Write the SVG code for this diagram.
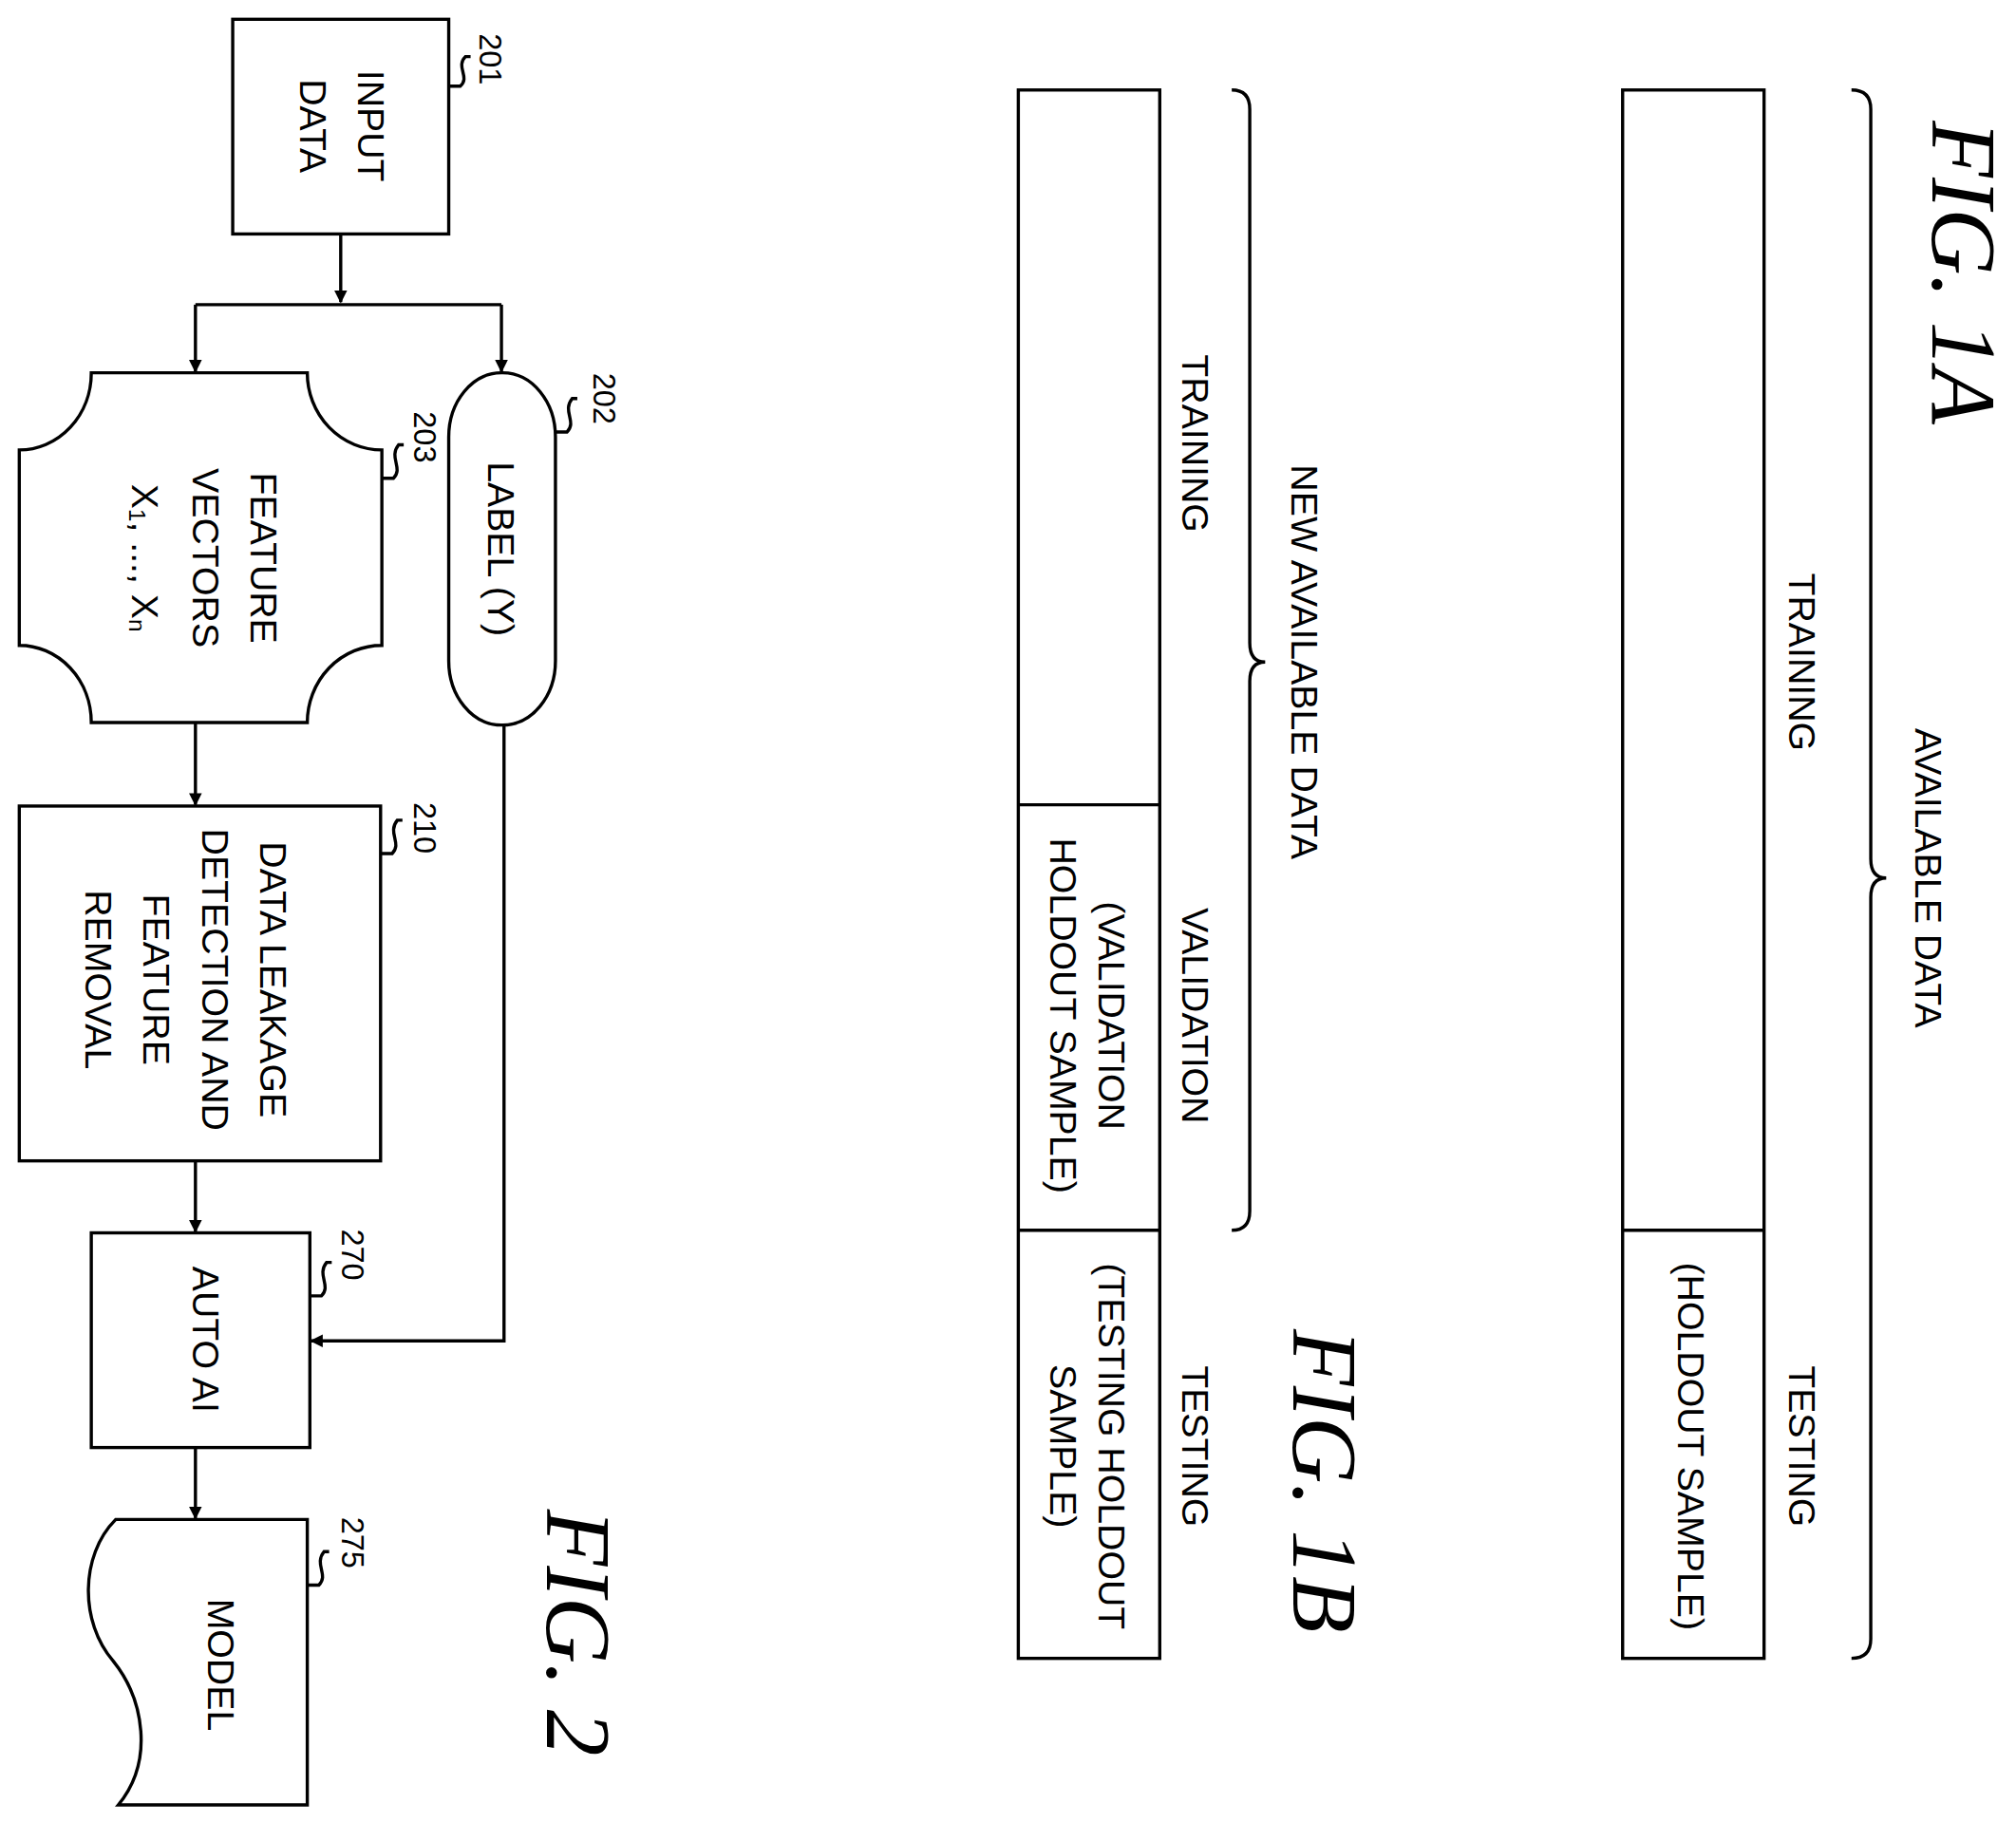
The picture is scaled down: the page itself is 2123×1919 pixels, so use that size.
<svg xmlns="http://www.w3.org/2000/svg" width="2123" height="1919" viewBox="0 0 2123 1919">
<style>
.s{fill:#fff;stroke:#000;stroke-width:2.5}
.l{fill:none;stroke:#000;stroke-width:2.5}
.t{font-family:"Liberation Sans",Arial,sans-serif;font-size:29px;fill:#000;text-anchor:middle;dominant-baseline:central}
.n{font-family:"Liberation Sans",Arial,sans-serif;font-size:24px;fill:#000;text-anchor:middle;dominant-baseline:central}
.f{font-family:"Liberation Serif","Times New Roman",serif;font-style:italic;font-size:72px;fill:#000;text-anchor:middle;dominant-baseline:central}
</style>
<defs><marker id="a" markerWidth="10" markerHeight="10" refX="9" refY="5" orient="auto" markerUnits="userSpaceOnUse"><path d="M0,0 L10,5 L0,10 z" fill="#000"/></marker></defs>
<rect width="2123" height="1919" fill="#fff"/>
<g transform="scale(1.354)">
<g id="connectors">
<path class="l" d="M265,182 V235" marker-end="url(#a)"/>
<path class="l" d="M152,237 H390"/>
<path class="l" d="M152,237 V289" marker-end="url(#a)"/>
<path class="l" d="M390,237 V289" marker-end="url(#a)"/>
<path class="l" d="M152,562 V626" marker-end="url(#a)"/>
<path class="l" d="M152,903 V958" marker-end="url(#a)"/>
<path class="l" d="M392,564 V1043 H242" marker-end="url(#a)"/>
<path class="l" d="M152,1126 V1181" marker-end="url(#a)"/>
</g>
<g id="n201"><rect class="s" x="181" y="15" width="168" height="167"/>
<text class="t" transform="translate(289,98) rotate(90)">INPUT</text>
<text class="t" transform="translate(244,98) rotate(90)">DATA</text>
<path class="l" d="M349,67 H358 C366,60 354,52 362,44 H366"/>
<text class="n" transform="translate(381,46) rotate(90)">201</text></g>
<g id="n203"><path class="s" d="M71,290 H239 A58,60 0 0 0 297,350 V502 A58,60 0 0 0 239,562 H71 A56,60 0 0 0 15,502 V350 A56,60 0 0 0 71,290 Z"/>
<text class="t" transform="translate(205,434) rotate(90)">FEATURE</text>
<text class="t" transform="translate(160,434) rotate(90)">VECTORS</text>
<text class="t" transform="translate(113,434) rotate(90)">X<tspan font-size="18" dy="6">1</tspan><tspan dy="-6">, ..., X</tspan><tspan font-size="18" dy="6">n</tspan></text>
<path class="l" d="M297,372 H306 C314,364 302,356 310,346 H314"/>
<text class="n" transform="translate(330,340) rotate(90)">203</text></g>
<g id="n202"><rect class="s" x="349" y="290" width="83" height="274" rx="41" ry="50"/>
<text class="t" transform="translate(390,427) rotate(90)">LABEL (Y)</text>
<path class="l" d="M432,336 H441 C449,328 437,320 445,310 H449"/>
<text class="n" transform="translate(470,310) rotate(90)">202</text></g>
<g id="n210"><rect class="s" x="15" y="627" width="281" height="276"/>
<text class="t" transform="translate(213,762) rotate(90)">DATA LEAKAGE</text>
<text class="t" transform="translate(168,762) rotate(90)">DETECTION AND</text>
<text class="t" transform="translate(122,762) rotate(90)">FEATURE</text>
<text class="t" transform="translate(77,762) rotate(90)">REMOVAL</text>
<path class="l" d="M296,664 H305 C313,656 301,648 309,638 H313"/>
<text class="n" transform="translate(330,644) rotate(90)">210</text></g>
<g id="n270"><rect class="s" x="71" y="959" width="170" height="167"/>
<text class="t" transform="translate(160,1042) rotate(90)">AUTO AI</text>
<path class="l" d="M241,1008 H250 C258,1000 246,992 254,982 H258"/>
<text class="n" transform="translate(274,976) rotate(90)">270</text></g>
<g id="n275"><path class="s" d="M90,1182 H239 V1404 H92 C120,1370 112,1322 88,1292 C62,1262 62,1210 90,1182 Z"/>
<text class="t" transform="translate(172,1295) rotate(90)">MODEL</text>
<path class="l" d="M239,1233 H248 C256,1225 244,1217 252,1207 H256"/>
<text class="n" transform="translate(274,1200) rotate(90)">275</text></g>
<text class="f" transform="translate(450,1270) rotate(90)">FIG. 2</text>
<g id="fig1a">
<rect class="s" x="1262" y="70" width="110" height="1220"/>
<path class="l" d="M1262,957 H1372"/>
<path class="l" d="M1440,70 Q1455,70 1455,85 V668 Q1455,683 1467,683 Q1455,683 1455,698 V1275 Q1455,1290 1440,1290"/>
<text class="t" transform="translate(1500,683) rotate(90)">AVAILABLE DATA</text>
<text class="t" transform="translate(1402,515) rotate(90)">TRAINING</text>
<text class="t" transform="translate(1402,1125) rotate(90)">TESTING</text>
<text class="t" transform="translate(1315,1125) rotate(90)">(HOLDOUT SAMPLE)</text>
<text class="f" transform="translate(1527,212) rotate(90)">FIG. 1A</text>
</g>
<g id="fig1b">
<rect class="s" x="792" y="70" width="110" height="1220"/>
<path class="l" d="M792,626 H902 M792,957 H902"/>
<path class="l" d="M958,70 Q972,70 972,85 V500 Q972,515 984,515 Q972,515 972,530 V942 Q972,957 958,957"/>
<text class="t" transform="translate(1015,515) rotate(90)">NEW AVAILABLE DATA</text>
<text class="t" transform="translate(930,345) rotate(90)">TRAINING</text>
<text class="t" transform="translate(930,790) rotate(90)">VALIDATION</text>
<text class="t" transform="translate(865,790) rotate(90)">(VALIDATION</text>
<text class="t" transform="translate(827,790) rotate(90)">HOLDOUT SAMPLE)</text>
<text class="t" transform="translate(930,1125) rotate(90)">TESTING</text>
<text class="t" transform="translate(865,1125) rotate(90)">(TESTING HOLDOUT</text>
<text class="t" transform="translate(827,1125) rotate(90)">SAMPLE)</text>
<text class="f" transform="translate(1030,1152) rotate(90)">FIG. 1B</text>
</g>
</g>
</svg>
